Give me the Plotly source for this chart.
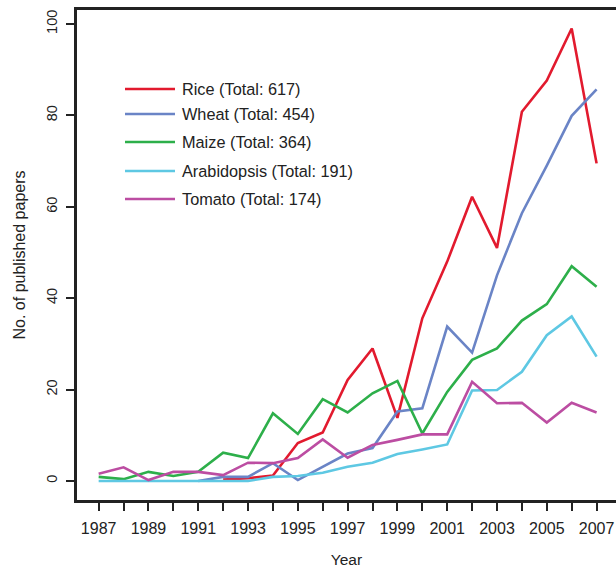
import plotly.graph_objects as go

years = list(range(1987, 2008))

rice_years = list(range(1992, 2008))
rice = [0.3, 0.6, 1.2, 8.3, 10.6, 22.1, 29.0, 13.8, 35.6, 48.0, 62.2, 51.0, 80.8, 87.6, 99.0, 69.5]

wheat_years = list(range(1991, 2008))
wheat = [0.0, 0.9, 0.9, 3.9, 0.2, 3.1, 6.0, 7.2, 15.2, 15.9, 33.8, 28.1, 45.0, 58.6, 69.0, 79.9, 85.7]

maize = [0.9, 0.4, 2.0, 1.1, 2.0, 6.2, 5.0, 14.8, 10.3, 17.9, 15.0, 19.2, 21.9, 10.4,
         19.5, 26.5, 29.0, 35.1, 38.7, 47.0, 42.5]

arabidopsis = [0.0, 0.0, 0.0, 0.0, 0.0, 0.0, 0.0, 0.9, 1.1, 1.8, 3.1, 4.0, 5.9, 6.9,
               8.0, 19.8, 19.9, 23.9, 31.9, 36.0, 27.2]

tomato = [1.6, 3.0, 0.2, 2.0, 2.0, 1.3, 4.0, 3.9, 5.0, 9.1, 5.1, 7.9, 9.0, 10.2,
          10.2, 21.7, 17.0, 17.1, 12.8, 17.1, 15.0]

series_names = ["Rice", "Wheat", "Maize", "Arabidopsis", "Tomato"]
series_totals = [617, 454, 364, 191, 174]
series_colors = ["#E21A2E", "#6A84C6", "#2DAF4A", "#5EC8E3", "#BC4DA2"]

x_tick_vals = years
x_tick_text = [str(y) if y % 2 == 1 else "" for y in years]
y_tick_vals = [0, 20, 40, 60, 80, 100]

series_x = [rice_years, wheat_years, years, years, years]
series_y = [rice, wheat, maize, arabidopsis, tomato]

FONT = "Liberation Sans, Arial, sans-serif"
TXT = "#222222"

fig = go.Figure()
for name, xs, ys, col in zip(series_names, series_x, series_y, series_colors):
    fig.add_trace(go.Scatter(x=xs, y=ys, mode="lines", name=name,
                             line=dict(color=col, width=2.6), showlegend=False))

# Manual legend (lines + labels) in paper coordinates
L, R, T, B = 77, 616, 10, 500
W, H = R - L, B - T
def px(x):
    return (x - L) / W
def py(y):
    return (B - y) / H

legend_rows = [89, 114, 142, 171, 199]
shapes = []
annotations = []
for name, tot, col, ry in zip(series_names, series_totals, series_colors, legend_rows):
    shapes.append(dict(type="line", xref="paper", yref="paper",
                       x0=px(125), x1=px(175), y0=py(ry), y1=py(ry),
                       line=dict(color=col, width=2.6)))
    annotations.append(dict(xref="paper", yref="paper", x=px(180), y=py(ry),
                            xanchor="left", yanchor="middle", showarrow=False,
                            text=f"{name} (Total: {tot})",
                            font=dict(family=FONT, size=16.3, color=TXT)))

fig.update_layout(
    width=616, height=568,
    margin=dict(l=L, r=0, t=T, b=568 - B),
    paper_bgcolor="white", plot_bgcolor="white",
    font=dict(family=FONT, size=15, color=TXT),
    shapes=shapes, annotations=annotations,
    xaxis=dict(range=[1986.13, 2007.78], tickvals=x_tick_vals, ticktext=x_tick_text,
               showgrid=False, zeroline=False, showline=True, mirror=True,
               linecolor=TXT, linewidth=2.5, ticks="outside", ticklen=8,
               tickwidth=1.6, tickcolor=TXT, ticklabelstandoff=4,
               tickfont=dict(size=16, color=TXT),
               title=dict(text="Year", standoff=21,
                          font=dict(size=15.5, color=TXT))),
    yaxis=dict(range=[-4.16, 103.06], tickvals=y_tick_vals, tickangle=-90,
               showgrid=False, zeroline=False, showline=True, mirror=False,
               linecolor=TXT, linewidth=2.5, ticks="outside", ticklen=8,
               tickwidth=1.6, tickcolor=TXT, ticklabelstandoff=3,
               tickfont=dict(size=14.5, color=TXT),
               title=dict(text="No. of published papers", standoff=15,
                          font=dict(size=16, color=TXT))),
)

fig.write_html("out.html", config={"displayModeBar": False},
               post_script="document.body.style.margin='0px';document.body.style.overflow='hidden';")
